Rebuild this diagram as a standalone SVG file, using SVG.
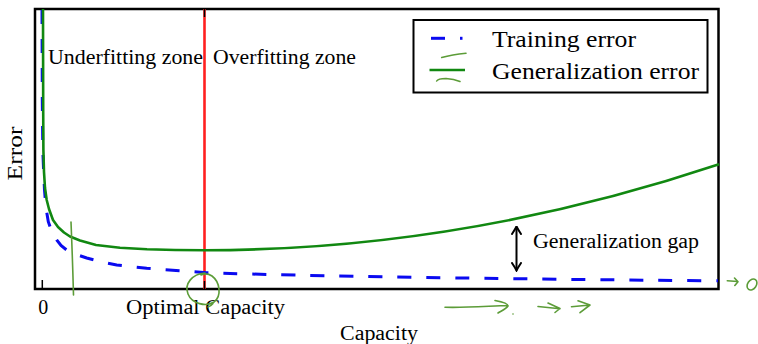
<svg xmlns="http://www.w3.org/2000/svg" width="758" height="344" viewBox="0 0 758 344">
<defs>
<style>
.t{font-family:"Liberation Serif","Times New Roman",serif;font-size:20px;fill:#000}
.lg{font-size:23px}
.ax{fill:none;stroke:#000;stroke-width:2.5}
.tick{stroke:#000;stroke-width:1.5}
.gen{fill:none;stroke:#118811;stroke-width:2.6;stroke-linejoin:round}
.trn{fill:none;stroke:#0a0af0;stroke-width:3;stroke-dasharray:14 15}
.hand{fill:none;stroke:#5c9c38;stroke-width:1.6;stroke-linecap:round;stroke-linejoin:round}
</style>
<marker id="ah" viewBox="-9 -6 10 12" refX="0" refY="0" markerWidth="10" markerHeight="12" markerUnits="userSpaceOnUse" orient="auto-start-reverse">
<path d="M-7.5,-4.5 Q-2.5,-1.2 0,0 Q-2.5,1.2 -7.5,4.5" fill="none" stroke="#000" stroke-width="2" stroke-linecap="round"/>
</marker>
</defs>
<rect width="758" height="344" fill="#fff"/>

<g id="axes">
<rect class="ax" x="35" y="9" width="683.5" height="280"/>
</g>

<g id="optimal-line">
<line x1="204.5" y1="9" x2="204.5" y2="289" stroke="#ff2020" stroke-width="2.6"/>
</g>

<g id="ticks">
<line class="tick" x1="42.3" y1="280" x2="42.3" y2="289"/>
<line class="tick" x1="204.5" y1="281" x2="204.5" y2="289"/>
<line class="tick" x1="204.5" y1="9" x2="204.5" y2="17"/>
<line class="tick" x1="42.3" y1="9" x2="42.3" y2="17"/>
</g>

<g id="curves">
<path id="training" class="trn" d="M42,10 L42.3,100 L42.8,150 L43.5,168 L44.5,190 L46,208 L48.3,221.7 L52,232 L56.7,240 L61,245.5 L66.7,250 L75,254 L86.7,258 L100,261.5 L116.7,265 L146.7,268.3 L180,270.7 L206.7,272.7 C300,276 500,279 718,280.8"/>
<path id="generalization" class="gen" d="M43,9 L43.1,60 L43.2,110 L43.4,150 L44,172 L45,188 L46.7,200 L49,209 L53,220 L58,227 L64,232.5 L70,236.5 L80,240.5 L96,245 L120,247.8 L147,249.3 L175,250 L205,250.2 Q462,250.2 719,164.3"/>
</g>

<g id="zone-labels">
<text class="t" x="48" y="64" textLength="155" lengthAdjust="spacingAndGlyphs">Underfitting zone</text>
<text class="t" x="213" y="64" textLength="143" lengthAdjust="spacingAndGlyphs">Overfitting zone</text>
</g>

<g id="legend">
<rect x="413.5" y="20" width="294" height="72.5" fill="#fff" stroke="#000" stroke-width="2"/>
<line x1="431" y1="38.3" x2="445" y2="38.3" stroke="#0a0af0" stroke-width="3"/>
<line x1="460" y1="38.3" x2="462.5" y2="38.3" stroke="#0a0af0" stroke-width="3"/>
<line x1="429.5" y1="70" x2="465" y2="70" stroke="#118811" stroke-width="2.6"/>
<text class="t lg" x="492" y="46.5" textLength="144" lengthAdjust="spacingAndGlyphs">Training error</text>
<text class="t lg" x="492" y="79" textLength="207" lengthAdjust="spacingAndGlyphs">Generalization error</text>
</g>

<g id="gap">
<line x1="516.5" y1="226.5" x2="516.5" y2="270.5" stroke="#000" stroke-width="2" marker-start="url(#ah)" marker-end="url(#ah)"/>
<text class="t" x="533" y="248" textLength="166" lengthAdjust="spacingAndGlyphs">Generalization gap</text>
</g>

<g id="axis-labels">
<text class="t" x="43.3" y="313.5" text-anchor="middle">0</text>
<text class="t" x="126" y="313.5" textLength="159" lengthAdjust="spacingAndGlyphs">Optimal Capacity</text>
<text class="t" x="340" y="339.5" textLength="78" lengthAdjust="spacingAndGlyphs">Capacity</text>
<text class="t" transform="translate(22,153.5) rotate(-90)" x="-27" y="0" textLength="54" lengthAdjust="spacingAndGlyphs">Error</text>
</g>

<g id="annotations">
<path class="hand" d="M71,222 Q72.5,258 73.5,295"/>
<path class="hand" d="M205,273 C192,274 184,284 188,294 C192,304 206,307 214,302 C222,296 220,282 212,276 C209,274 205,273 201,275 M213,303.5 Q211,306 208,307"/>
<path class="hand" d="M441.7,57.5 Q452,54.5 466,53.2"/>
<path class="hand" d="M436.7,81 Q438,78.5 446,78.5 Q454,79 460,81.5"/>
<path class="hand" d="M445,307.3 C465,308 490,306 508,305.5 M495,300.5 C503,302 508,304 508,306 C506,309 501,311 498,313"/>
<circle cx="513" cy="314" r="0.8" fill="#5c9c38"/>
<path class="hand" d="M538,306.5 L560,308.7 M548,303 L560,308.5 L555,312.5"/>
<path class="hand" d="M571.5,306.7 L590,305 M578,300.7 L590,305 L580,312.7"/>
<path class="hand" d="M727.3,280.7 L737.5,281.5 M734.5,278 L738,281.8 L734.8,285.5"/>
<ellipse class="hand" cx="752" cy="284.5" rx="4.3" ry="6" transform="rotate(35 752 284.5)"/>
</g>
</svg>
